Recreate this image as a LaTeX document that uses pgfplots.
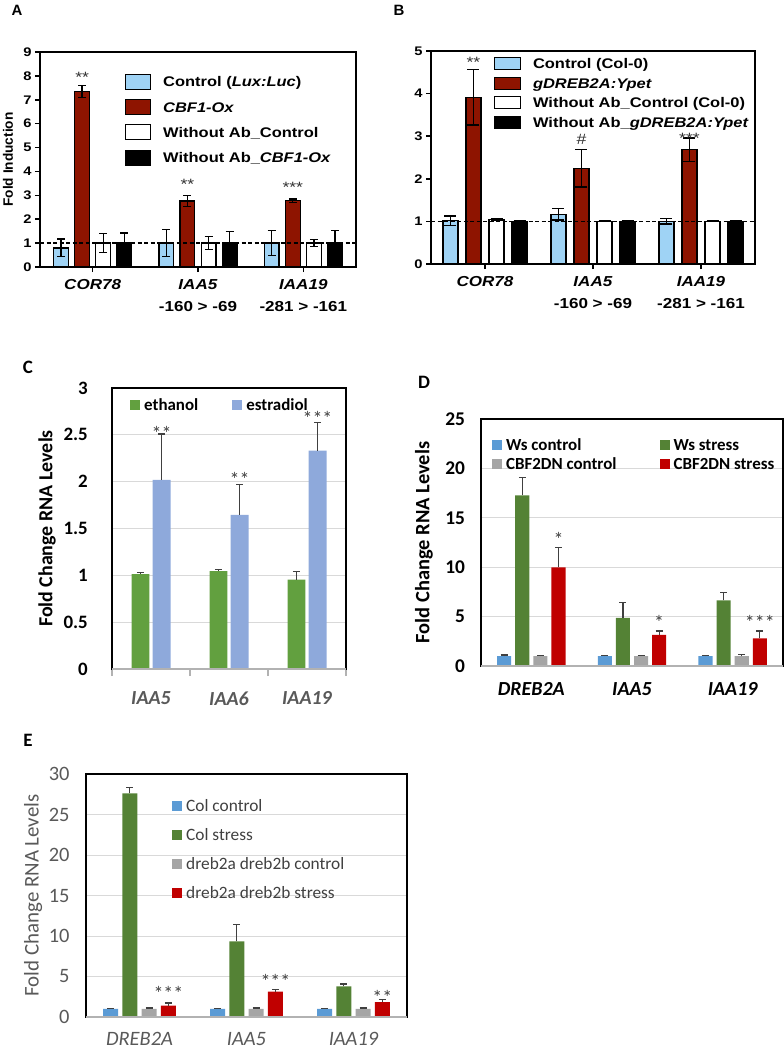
\documentclass[border=0pt]{standalone}
\usepackage{fontspec}
\usepackage{pgfplots}
\pgfplotsset{compat=1.18}
\setmainfont{Liberation Sans}
\newfontfamily\arw[FakeStretch=1.18]{Liberation Sans}
\newfontfamily\calib{Carlito}

\definecolor{ablue}{HTML}{9FD3F5}
\definecolor{ared}{HTML}{8E1400}
\definecolor{cgreen}{HTML}{62A03F}
\definecolor{cblue}{HTML}{8EA9DB}
\definecolor{dblue}{HTML}{5B9BD5}
\definecolor{dgreen}{HTML}{548235}
\definecolor{dgray}{HTML}{A5A5A5}
\definecolor{dred}{HTML}{C00000}
\definecolor{tgray}{HTML}{595959}
\definecolor{egray}{HTML}{404040}
\definecolor{ggray}{HTML}{D9D9D9}

\newcommand{\fs}[1]{\fontsize{#1}{#1}\selectfont}
\tikzset{base/.style={gray!60, line width=1.5bp}}

\pgfplotsset{
  gp/.style={scale only axis, anchor=south west, xmin=-0.5, xmax=2.5, ymin=0,
    axis line style={line width=1.6bp},
    tick align=outside, major tick length=5bp,
    tick style={black, line width=1.6bp},
    xtick={0,1,2}, xtick pos=left, ytick pos=left,
    /pgf/number format/assume math mode=true,
    yticklabel style={font=\arw\bfseries\fs{12.5}},
    xticklabel style={align=center, yshift=-4bp, font=\arw\bfseries\fontsize{14.5}{22}\selectfont},
    legend cell align=left,
    legend style={draw=none, fill=none, anchor=north west, inner sep=0pt,
      font=\arw\bfseries\fs{14},
      nodes={inner sep=0pt, text height=11bp, text depth=3bp},
      /tikz/every odd column/.append style={column sep=12bp}},
    clip=false},
  gpbar/.style={ybar, bar width=0.14, bar shift=0pt, draw=black, line width=1.3bp,
    error bars/y dir=both, error bars/y explicit,
    error bars/error bar style={line width=1.3bp, black},
    error bars/error mark options={rotate=90, mark size=#1, line width=1.3bp, black}},
  legA/.style={legend image code/.code={\draw[##1, line width=1bp] (0bp,-6.5bp) rectangle (25bp,8.5bp);}},
  legB/.style={legend image code/.code={\draw[##1, line width=1bp] (0bp,-5bp) rectangle (26bp,7bp);}},
  xl/.style={scale only axis, anchor=south west, xmin=-0.5, xmax=2.5, ymin=0,
    axis line style={line width=1.3bp, black},
    ymajorgrids, grid style={ggray, line width=1bp},
    ytick style={draw=none}, xtick style={draw=none},
    xtick={0,1,2}, xtick pos=left,
    /pgf/number format/assume math mode=true,
    legend cell align=left,
    legend style={draw=none, fill=none, anchor=north west, inner sep=0pt,
      nodes={inner sep=0pt, text height=12bp, text depth=4bp},
      /tikz/every odd column/.append style={column sep=4bp}},
    clip=false},
  xlbar/.style={ybar, bar width=#1, bar shift=0pt, draw=none,
    legend image code/.code={\fill[##1] (0bp,-3.5bp) rectangle (10bp,6.5bp);},
    error bars/y dir=plus, error bars/y explicit,
    error bars/error bar style={line width=1.2bp, egray},
    error bars/error mark options={rotate=90, mark size=3.5bp, line width=1.2bp, egray}},
}

\begin{document}
\begin{tikzpicture}
\path[use as bounding box] (0,0) rectangle (784bp,-1050bp);

% ----- A
\begin{axis}[gp, at={(40bp,-267bp)}, width=316bp, height=215bp,
  ymax=9, ytick={0,...,9},
  xticklabels={{\textit{COR78}}, {\textit{IAA5}\\-160 > -69}, {\textit{IAA19}\\-281 > -161}},
  ylabel={Fold Induction},
  every axis y label/.style={at={(axis description cs:-0.101,0.5)}, rotate=90, anchor=center, font=\bfseries\fs{13.7}},
  legend style={at={(0.269,0.9)}, row sep=9.3bp},
]
\addplot[gpbar=4bp, legA, fill=ablue] coordinates {(-0.3,0.8) +- (0,0.37) (0.7,1.0) +- (0,0.57) (1.7,1.0) +- (0,0.52)};
\addplot[gpbar=4bp, legA, fill=ared] coordinates {(-0.1,7.36) +- (0,0.25) (0.9,2.76) +- (0,0.22) (1.9,2.78) +- (0,0.07)};
\addplot[gpbar=4bp, legA, fill=white] coordinates {(0.1,1.0) +- (0,0.40) (1.1,1.0) +- (0,0.28) (2.1,1.0) +- (0,0.15)};
\addplot[gpbar=4bp, legA, fill=black] coordinates {(0.3,1.0) +- (0,0.42) (1.3,1.0) +- (0,0.48) (2.3,1.0) +- (0,0.52)};
\addplot[black, line width=1.8bp, dash pattern=on 4bp off 2.5bp, forget plot] coordinates {(-0.5,1) (2.5,1)};
\legend{Control (\textit{Lux:Luc}), \textit{CBF1-Ox}, Without Ab\_Control, Without Ab\_\textit{CBF1-Ox}}
\node[font=\arw\fs{15}, text=black!80] at (axis cs:-0.1,7.95) {**};
\node[font=\arw\fs{15}, text=black!80] at (axis cs:0.9,3.45) {**};
\node[font=\arw\fs{15}, text=black!80] at (axis cs:1.9,3.32) {***};
\end{axis}

% ----- B
\begin{axis}[gp, at={(431bp,-264bp)}, width=324bp, height=213bp,
  ymax=5, ytick={0,...,5},
  xticklabels={{\textit{COR78}}, {\textit{IAA5}\\-160 > -69}, {\textit{IAA19}\\-281 > -161}},
  legend style={at={(0.194,0.972)}, row sep=5bp},
]
\addplot[gpbar=6bp, legB, fill=ablue] coordinates {(-0.32,1.02) +- (0,0.11) (0.68,1.17) +- (0,0.14) (1.68,1.0) +- (0,0.06)};
\addplot[gpbar=6bp, legB, fill=ared] coordinates {(-0.107,3.91) +- (0,0.65) (0.893,2.25) +- (0,0.44) (1.893,2.68) +- (0,0.28)};
\addplot[gpbar=6bp, legB, fill=white] coordinates {(0.107,1.05) +- (0,0.02) (1.107,1.0) +- (0,0.01) (2.107,1.0) +- (0,0.01)};
\addplot[gpbar=6bp, legB, fill=black] coordinates {(0.32,1.0) +- (0,0.01) (1.32,1.0) +- (0,0.01) (2.32,1.0) +- (0,0.01)};
\addplot[black, line width=1.8bp, dash pattern=on 4bp off 2.5bp, forget plot] coordinates {(-0.5,1) (2.5,1)};
\legend{Control (Col-0), \textit{gDREB2A:Ypet}, Without Ab\_Control (Col-0), Without Ab\_\textit{gDREB2A:Ypet}}
\node[font=\arw\fs{15}, text=black!80] at (axis cs:-0.107,4.74) {**};
\node[font=\arw\fs{15}, text=black!80] at (axis cs:0.893,2.93) {\#};
\node[font=\arw\fs{15}, text=black!80] at (axis cs:1.893,2.96) {***};
\end{axis}

% ----- C
\begin{axis}[xl, at={(112bp,-669bp)}, width=234bp, height=281bp,
  ymax=3, ytick={0,0.5,1,1.5,2,2.5,3},
  yticklabel style={font=\calib\bfseries\fs{19}, xshift=-13.7bp},
  xtick={-0.5,0.5,1.5,2.5}, xticklabels={,,,},
  xtick style={draw=gray!60, line width=1.2bp}, tick align=outside, major tick length=7bp,
  xticklabel style={font=\calib\bfseries\itshape\fs{20}, text=tgray, yshift=-12bp},
  extra x ticks={0,1,2}, extra x tick labels={IAA5,IAA6,IAA19},
  extra x tick style={xtick style={draw=none}},
  ylabel={Fold Change RNA Levels},
  every axis y label/.style={at={(axis description cs:-0.278,0.5)}, rotate=90, anchor=center, font=\calib\bfseries\fs{20}},
  legend columns=2,
  legend style={at={(0.077,0.964)}, font=\calib\bfseries\fs{17}, /tikz/every even column/.append style={column sep=34bp}},
]
\addplot[xlbar=0.23, fill=cgreen] coordinates {(-0.135,1.014) +- (0,0.015) (0.865,1.046) +- (0,0.018) (1.865,0.954) +- (0,0.085)};
\addplot[xlbar=0.23, fill=cblue] coordinates {(0.135,2.018) +- (0,0.49) (1.135,1.646) +- (0,0.32) (2.135,2.332) +- (0,0.30)};
\legend{ethanol, estradiol}
\draw[base] (rel axis cs:0,0) -- (rel axis cs:1,0);
\node[font=\calib\fs{20}, text=egray] at (axis cs:0.135,2.52) {**};
\node[font=\calib\fs{20}, text=egray] at (axis cs:1.135,2.02) {**};
\node[font=\calib\fs{20}, text=egray] at (axis cs:2.135,2.67) {***};
\end{axis}

% ----- D
\begin{axis}[xl, at={(481bp,-666bp)}, width=302bp, height=247bp,
  ymax=25, ytick={0,5,...,25},
  yticklabel style={font=\calib\bfseries\fs{19.5}, xshift=-12.4bp},
  xticklabels={DREB2A,IAA5,IAA19},
  xticklabel style={font=\calib\bfseries\itshape\fs{20}, yshift=-13bp},
  ylabel={Fold Change RNA Levels},
  every axis y label/.style={at={(axis description cs:-0.189,0.5)}, rotate=90, anchor=center, font=\calib\bfseries\fs{20.5}},
  legend columns=2,
  legend style={at={(0.036,0.923)}, font=\calib\bfseries\fs{17}, row sep=3bp, /tikz/every even column/.append style={column sep=43bp}},
]
\addplot[xlbar=0.14, fill=dblue] coordinates {(-0.27,1.0) +- (0,0.12) (0.73,1.0) +- (0,0.10) (1.73,1.0) +- (0,0.10)};
\addplot[xlbar=0.14, fill=dgreen] coordinates {(-0.09,17.27) +- (0,1.8) (0.91,4.86) +- (0,1.55) (1.91,6.64) +- (0,0.78)};
\addplot[xlbar=0.14, fill=dgray] coordinates {(0.09,1.0) +- (0,0.08) (1.09,1.0) +- (0,0.08) (2.09,1.0) +- (0,0.15)};
\addplot[xlbar=0.14, fill=dred] coordinates {(0.27,9.98) +- (0,2.0) (1.27,3.14) +- (0,0.40) (2.27,2.8) +- (0,0.74)};
\legend{Ws control, Ws stress, CBF2DN control, CBF2DN stress}
\draw[base] (rel axis cs:0,0) -- (rel axis cs:1,0);
\node[font=\calib\fs{20}, text=egray] at (axis cs:0.27,12.8) {*};
\node[font=\calib\fs{20}, text=egray] at (axis cs:1.27,4.45) {*};
\node[font=\calib\fs{20}, text=egray] at (axis cs:2.27,4.45) {***};
\end{axis}

% ----- E
\begin{axis}[xl, at={(86bp,-1017bp)}, width=321bp, height=243bp,
  ymax=30, ytick={0,5,...,30},
  yticklabel style={font=\calib\fs{20.5}, text=tgray, xshift=-13bp},
  xticklabels={DREB2A,IAA5,IAA19},
  xticklabel style={font=\calib\itshape\fs{20.5}, text=tgray, yshift=-12bp},
  ylabel={Fold Change RNA Levels},
  every axis y label/.style={at={(axis description cs:-0.165,0.5)}, rotate=90, anchor=center, font=\calib\fs{21}, text=tgray},
  legend style={at={(0.268,0.897)}, font=\calib\fs{17.4}, text=egray, row sep=13bp},
]
\addplot[xlbar=0.14, fill=dblue] coordinates {(-0.27,1.0) +- (0,0.1) (0.73,1.0) +- (0,0.1) (1.73,1.0) +- (0,0.1)};
\addplot[xlbar=0.14, fill=dgreen] coordinates {(-0.09,27.6) +- (0,0.7) (0.91,9.33) +- (0,2.05) (1.91,3.78) +- (0,0.3)};
\addplot[xlbar=0.14, fill=dgray] coordinates {(0.09,1.0) +- (0,0.12) (1.09,1.0) +- (0,0.12) (2.09,1.0) +- (0,0.12)};
\addplot[xlbar=0.14, fill=dred] coordinates {(0.27,1.40) +- (0,0.33) (1.27,3.12) +- (0,0.25) (2.27,1.85) +- (0,0.29)};
\legend{Col control, Col stress, dreb2a dreb2b control, dreb2a dreb2b stress}
\draw[base] (rel axis cs:0,0) -- (rel axis cs:1,0);
\node[font=\calib\fs{20}, text=egray] at (axis cs:0.27,2.9) {***};
\node[font=\calib\fs{20}, text=egray] at (axis cs:1.27,4.4) {***};
\node[font=\calib\fs{20}, text=egray] at (axis cs:2.27,2.45) {**};
\end{axis}

% panel letters
\node[font=\bfseries\fs{15}] at (17bp,-10bp) {A};
\node[font=\bfseries\fs{15}] at (399bp,-10bp) {B};
\node[font=\calib\bfseries\fs{19}] at (28bp,-367bp) {C};
\node[font=\calib\bfseries\fs{19}] at (424bp,-382bp) {D};
\node[font=\calib\bfseries\fs{19}] at (28bp,-740bp) {E};
\end{tikzpicture}
\end{document}
